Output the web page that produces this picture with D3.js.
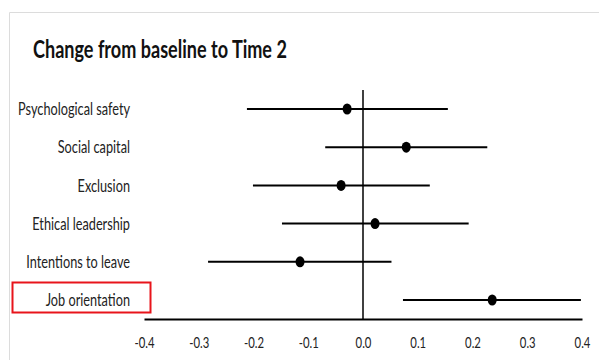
<!DOCTYPE html>
<html>
<head>
<meta charset="utf-8">
<script src="https://cdn.jsdelivr.net/npm/d3@7"></script>
<style>
  body { margin: 0; background: #fff; }
  text { font-family: Lato, "Open Sans", sans-serif; }
</style>
</head>
<body>
<script>
// forest plot data
const categories = ['Psychological safety', 'Social capital', 'Exclusion',
                    'Ethical leadership', 'Intentions to leave', 'Job orientation'];
const estimates = [-0.029, 0.079, -0.040, 0.022, -0.115, 0.236];
const lower     = [-0.212, -0.069, -0.201, -0.148, -0.283, 0.073];
const upper     = [0.155, 0.227, 0.122, 0.193, 0.052, 0.398];
const tickValues = [-0.4, -0.3, -0.2, -0.1, 0.0, 0.1, 0.2, 0.3, 0.4];
const highlighted = 'Job orientation';

const W = 599, H = 360;

const svg = d3.select('body').append('svg')
  .attr('width', W)
  .attr('height', H);

// the source picture is squeezed sideways, so text gets narrowed too
function squeeze(sel, k) {
  sel.each(function () {
    const t = d3.select(this);
    const ax = +t.attr('x') || 0;
    t.attr('transform', 'translate(' + ax + ',0) scale(' + k + ',1) translate(' + (-ax) + ',0)');
  });
}

// faint frame of the pasted figure
svg.append('path')
  .attr('d', 'M9.5,' + H + 'V12.5H' + W)
  .attr('fill', 'none')
  .attr('stroke', '#dcdcdc')
  .attr('stroke-width', 1);

const title = svg.append('text')
  .attr('x', 33)
  .attr('y', 58)
  .attr('font-size', 24)
  .attr('font-weight', 'bold')
  .attr('fill', '#111')
  .text('Change from baseline to Time 2');
squeeze(title, 254 / title.node().getComputedTextLength());

const x = d3.scaleLinear().domain([-0.4, 0.4]).range([144, 582]);
const y = d3.scalePoint().domain(categories).range([109, 300]);

const rows = categories.map(function (c, i) {
  return { name: c, est: estimates[i], lo: lower[i], hi: upper[i] };
});

// zero line
svg.append('line')
  .attr('x1', x(0)).attr('x2', x(0))
  .attr('y1', 90).attr('y2', 319)
  .attr('stroke', '#000')
  .attr('stroke-width', 1.5);

// category labels
const labels = svg.selectAll('.lbl').data(rows).enter().append('text')
  .attr('class', 'lbl')
  .attr('x', 130)
  .attr('y', d => y(d.name))
  .attr('dy', '0.35em')
  .attr('text-anchor', 'end')
  .attr('font-size', 18)
  .attr('fill', '#222')
  .text(d => d.name);
const k = 112 / labels.filter((d, i) => i === 0).node().getComputedTextLength();
squeeze(labels, k);

// x axis
const axis = svg.append('g')
  .attr('transform', 'translate(0,319)')
  .call(d3.axisBottom(x).tickValues(tickValues).tickSize(0).tickPadding(18)
    .tickFormat(d => d.toFixed(1)));
axis.select('.domain')
  .attr('stroke', '#000')
  .attr('stroke-width', 2);
const tickText = axis.selectAll('text')
  .attr('font-size', 16)
  .attr('fill', '#222')
  .style('font-family', 'Lato, sans-serif');
squeeze(tickText, k);

// interval lines
svg.selectAll('.ci').data(rows).enter().append('line')
  .attr('class', 'ci')
  .attr('x1', d => x(d.lo)).attr('x2', d => x(d.hi))
  .attr('y1', d => y(d.name)).attr('y2', d => y(d.name))
  .attr('stroke', '#000')
  .attr('stroke-width', 2);

// point estimates
svg.selectAll('.pt').data(rows).enter().append('ellipse')
  .attr('class', 'pt')
  .attr('cx', d => x(d.est))
  .attr('cy', d => y(d.name))
  .attr('rx', 4.5)
  .attr('ry', 5.5)
  .attr('fill', '#000');

// red highlight box
svg.append('rect')
  .attr('x', 12.5)
  .attr('y', y(highlighted) - 17.5)
  .attr('width', 138)
  .attr('height', 30)
  .attr('fill', 'none')
  .attr('stroke', '#e8141b')
  .attr('stroke-width', 2);
</script>
</body>
</html>
